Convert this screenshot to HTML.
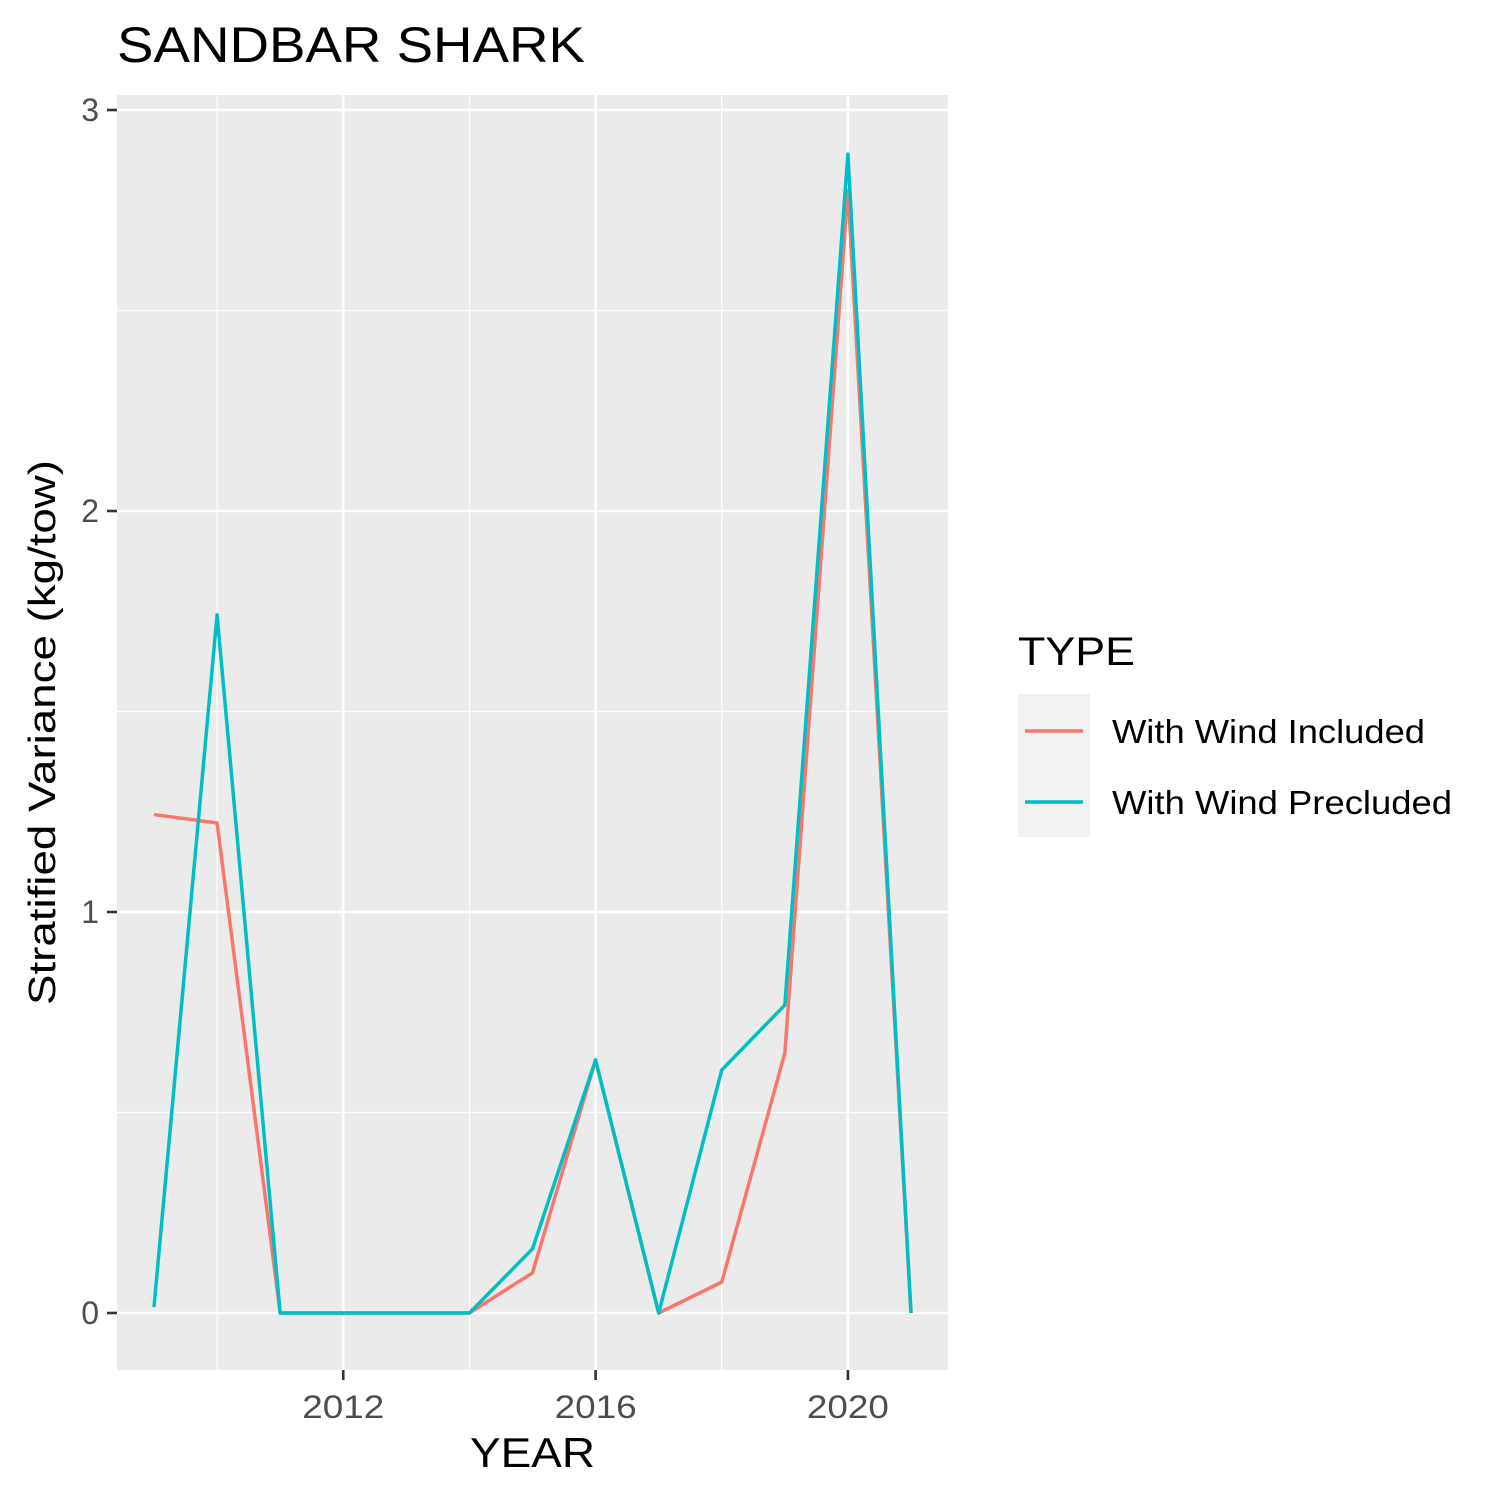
<!DOCTYPE html>
<html><head><meta charset="utf-8"><style>
html,body{margin:0;padding:0;background:#fff;}
svg{display:block;font-family:"Liberation Sans",Arial,sans-serif;}
</style></head><body>
<svg id="chart" width="1500" height="1500" viewBox="0 0 1500 1500">
<rect width="1500" height="1500" fill="#fff"/>
<text x="117" y="62" font-size="50" textLength="468" lengthAdjust="spacingAndGlyphs" fill="#000">SANDBAR SHARK</text>
<rect x="117" y="95" width="831" height="1275" fill="#ebebeb"/>
<g id="grid"></g>
<g id="series"></g>
<g id="axes"></g>
<text x="470" y="1467" font-size="42" textLength="125" lengthAdjust="spacingAndGlyphs" fill="#000">YEAR</text>
<text transform="translate(55,1005) rotate(-90)" font-size="38" textLength="545" lengthAdjust="spacingAndGlyphs" fill="#000">Stratified Variance (kg/tow)</text>
<g>
<text x="1018" y="665" font-size="40" textLength="117" lengthAdjust="spacingAndGlyphs" fill="#000">TYPE</text>
<rect x="1018" y="694" width="72" height="143" fill="#f2f2f2"/>
<line x1="1025" x2="1083" y1="731" y2="731" stroke="#F8766D" stroke-width="3.5"/>
<line x1="1025" x2="1083" y1="802" y2="802" stroke="#00BFC4" stroke-width="3.5"/>
<text x="1112" y="743" font-size="33" textLength="313" lengthAdjust="spacingAndGlyphs" fill="#000">With Wind Included</text>
<text x="1112" y="814" font-size="33" textLength="340" lengthAdjust="spacingAndGlyphs" fill="#000">With Wind Precluded</text>
</g>
</svg>
<script>
const years = [2009,2010,2011,2012,2013,2014,2015,2016,2017,2018,2019,2020,2021];
const includedValues = [1.243,1.222,0,0,0,0,0.10,0.631,0,0.077,0.648,2.80,0];
const precludedValues = [0.015,1.741,0,0,0,0,0.16,0.631,0,0.606,0.768,2.89,0];
const yTicks = [0,1,2,3];
const yMinor = [0.5,1.5,2.5];
const xTicks = [2012,2016,2020];
const xMinor = [2010,2014,2018];

const NS="http://www.w3.org/2000/svg";
function xs(v){return 154 + (v-2009)*(911-154)/12;}
function ys(v){return 1313 - v*401;}
function mk(tag,attrs,parent){const e=document.createElementNS(NS,tag);for(const k in attrs)e.setAttribute(k,attrs[k]);parent.appendChild(e);return e;}
const grid=document.getElementById('grid'),axes=document.getElementById('axes'),series=document.getElementById('series');
yMinor.forEach(v=>{const l=mk('line',{x1:117,x2:948,y1:ys(v),y2:ys(v),stroke:'#fff','stroke-width':1.2},grid);

});
xMinor.forEach(v=>{const l=mk('line',{x1:xs(v),x2:xs(v),y1:95,y2:1370,stroke:'#fff','stroke-width':1.2},grid);

});
yTicks.forEach(v=>{const l=mk('line',{x1:117,x2:948,y1:ys(v),y2:ys(v),stroke:'#fff','stroke-width':2.6},grid);


const t=mk('line',{x1:107,x2:117,y1:ys(v),y2:ys(v),stroke:'#333','stroke-width':2.6},axes);


const tx=mk('text',{x:99,y:ys(v)+11,'font-size':32,'text-anchor':'end',fill:'#4d4d4d'},axes);tx.textContent=v;

});
xTicks.forEach(v=>{const l=mk('line',{x1:xs(v),x2:xs(v),y1:95,y2:1370,stroke:'#fff','stroke-width':2.6},grid);


const t=mk('line',{x1:xs(v),x2:xs(v),y1:1370,y2:1380,stroke:'#333','stroke-width':2.6},axes);


const tx=mk('text',{x:xs(v)-41,y:1418,'font-size':32,textLength:82,lengthAdjust:'spacingAndGlyphs',fill:'#4d4d4d'},axes);tx.textContent=v;

});
function line(vals,color,name){const p=mk('polyline',{points:vals.map((v,i)=>xs(years[i])+','+ys(v)).join(' '),fill:'none',stroke:color,'stroke-width':3.5,'stroke-linejoin':'round'},series);

}
line(includedValues,'#F8766D','line-with-wind-included');
line(precludedValues,'#00BFC4','line-with-wind-precluded');
</script>
</body></html>
